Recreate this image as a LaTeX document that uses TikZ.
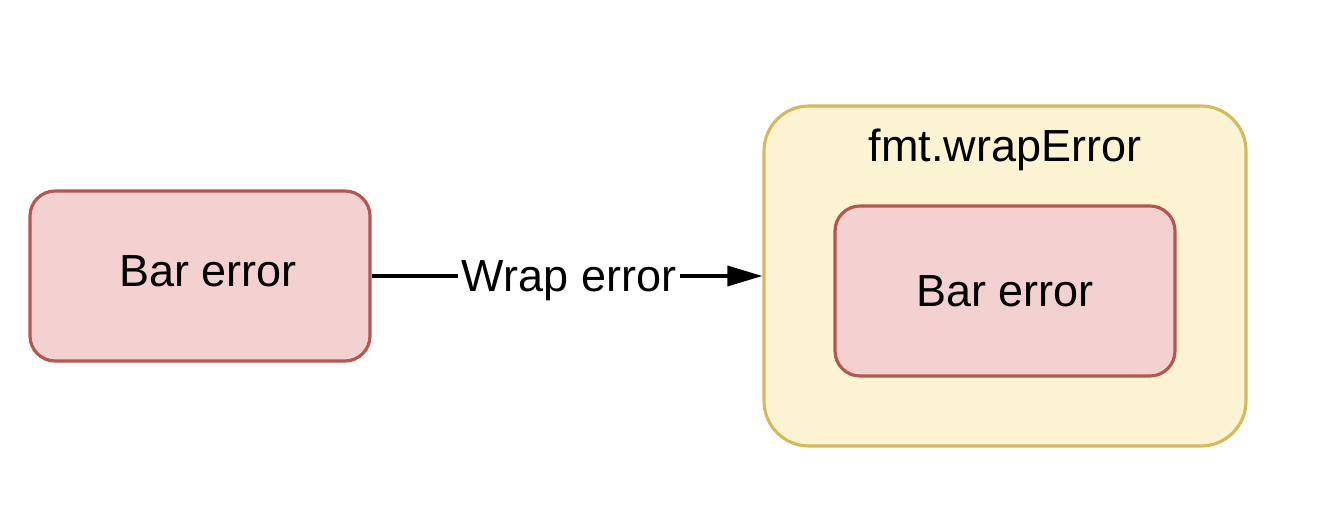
\documentclass[tikz,border=0pt]{standalone}
\usepackage{fontspec}
\setmainfont{Liberation Sans}
\usetikzlibrary{positioning,arrows.meta}

\definecolor{errfill}{HTML}{F3D1D0}
\definecolor{errline}{HTML}{B5564F}
\definecolor{wrapfill}{HTML}{FBF3D1}
\definecolor{wrapline}{HTML}{D5B95C}

\tikzset{
	errbox/.style={draw=errline, fill=errfill, line width=0.9pt, rounded corners=0.25cm,
		minimum width=3.4cm, minimum height=1.7cm},
	wrapbox/.style={draw=wrapline, fill=wrapfill, line width=0.9pt, rounded corners=0.45cm,
		minimum width=4.82cm, minimum height=3.4cm},
}

\begin{document}
\begin{tikzpicture}[font=\fontsize{12.8}{15}\selectfont]
	\useasboundingbox (0,0) rectangle (13.28,5.28);
	
	\node[errbox] (bar) at (2.0,2.52) {};
	\node (barlabel) at (2.08,2.57) {Bar error};
	\node[wrapbox] (wrap) at (10.05,2.52) {};
	\node[anchor=base] (title) at (10.05,3.66) {fmt.wrapError};
	\node[errbox] (inner) at (10.05,2.37) {Bar error};
	
	\draw[line width=1pt, -{Triangle[length=0.35cm,width=0.2cm]}] (bar.east) -- node[fill=white, inner sep=1pt, yshift=-0.05cm, xshift=0.02cm]{Wrap error} (wrap.west);
\end{tikzpicture}
\end{document}
